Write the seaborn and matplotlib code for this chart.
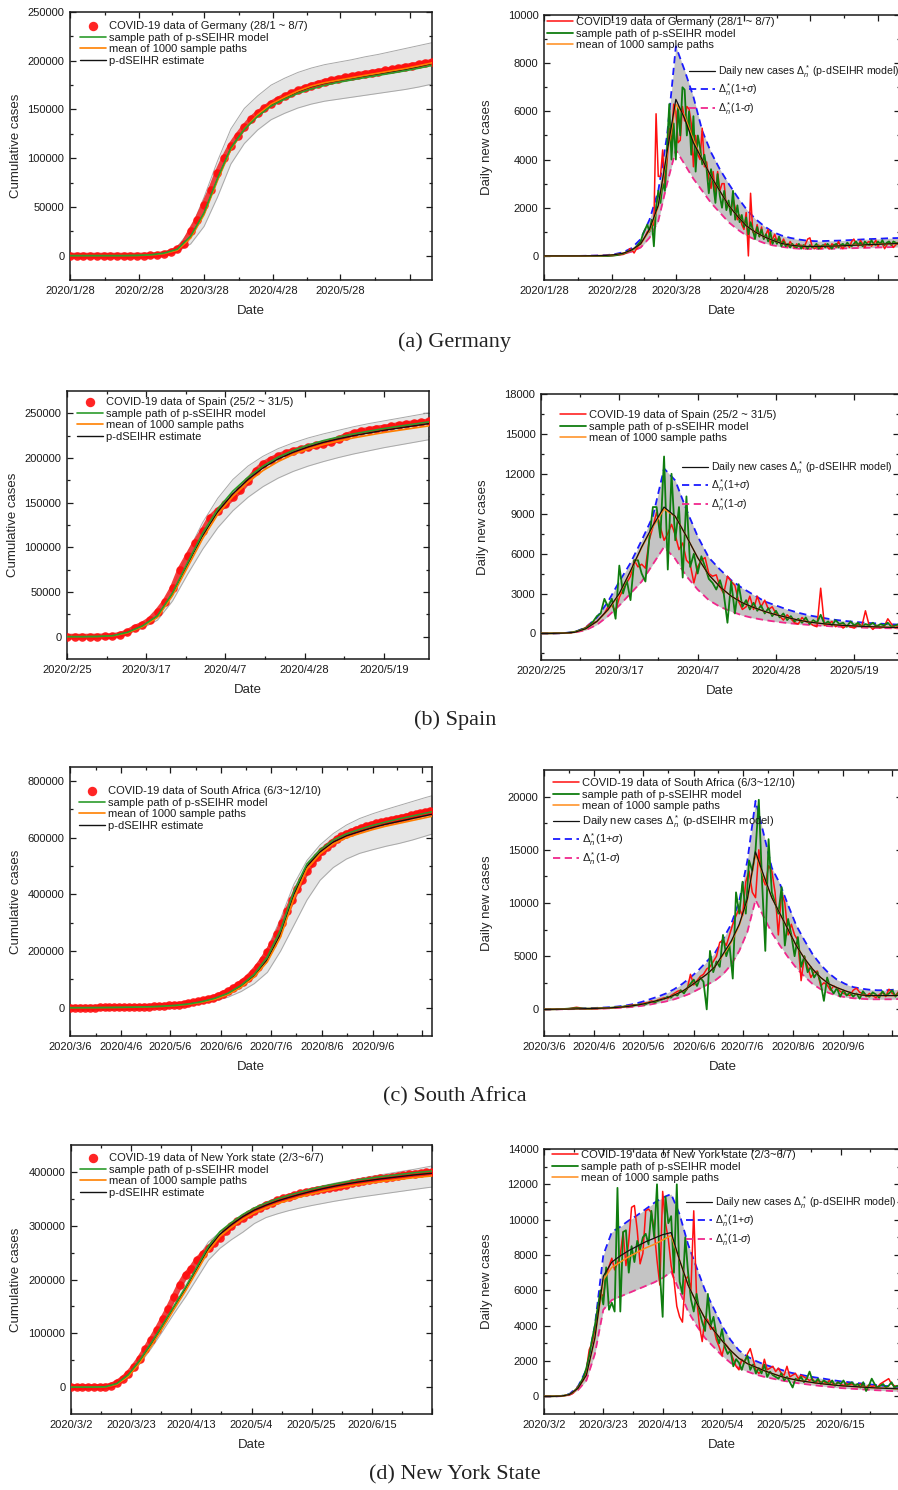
import numpy as np
import pandas as pd
import seaborn as sns
import matplotlib.pyplot as plt
from matplotlib.legend import Legend

# ---------------- Germany (day 0 = 2020/1/28) ----------------
ger_start = '2020-01-28'
ger_ticks = ['2020-01-28', '2020-02-28', '2020-03-28', '2020-04-28', '2020-05-28', '2020-06-28']
ger_label = 'COVID-19 data of Germany (28/1 ~ 8/7)'
# cumulative, observed every 3 days
ger_cum_obs = [0, 0, 0, 0, 0, 0, 0, 0, 0, 0, 20,
               120, 240, 800, 1600, 3500, 6500, 12000, 25000, 37000, 52000,
               67000, 85000, 100000, 113000, 123000, 132000, 140000, 146000, 151000, 156000,
               160000, 163500, 166500, 169500, 172000, 174500, 176500, 178500, 180000, 181500,
               183000, 184300, 185500, 186700, 187800, 188900, 190000, 191200, 192500, 193800,
               195000, 196300, 197600, 198800]
# cumulative model curves, every 6 days
ger_cum_est = [0, 0, 0, 0, 0, 200, 700, 2300, 6000, 19000, 43000, 78000, 110000, 130000,
               144000, 155000, 162000, 168500, 173500, 177000, 179500, 182000, 184300,
               186500, 188800, 191000, 194000, 197300]
ger_cum_path = [0, 0, 0, 0, 0, 250, 800, 2500, 6500, 20000, 44000, 79000, 110500, 129500,
                143000, 153500, 160500, 166500, 171000, 174800, 177800, 180300, 182700,
                185000, 187300, 189700, 192300, 195200]
ger_cum_mean = [0, 0, 0, 0, 0, 150, 600, 2100, 5600, 18000, 42000, 77000, 109000, 130000,
                144500, 155500, 162500, 169000, 174000, 177500, 180000, 182500, 185000,
                187300, 189700, 192000, 194800, 197800]
ger_cum_hi = [0, 0, 0, 0, 0, 300, 1000, 3000, 9000, 27000, 60000, 97000, 130000, 151000,
              164000, 175000, 182000, 188000, 192500, 196000, 198500, 201000, 204000,
              206500, 209500, 212500, 215500, 218500]
ger_cum_lo = [0, 0, 0, 0, 0, 100, 400, 1500, 4000, 12000, 30000, 60000, 94000, 115000,
              129000, 139500, 146000, 151500, 155500, 158500, 160500, 162500, 164500,
              166500, 168500, 170500, 173000, 176000]
# daily new cases, every day
ger_new_obs = [0] * 30 + [
    5, 10, 20, 30, 40, 50, 60, 100, 150, 300,
    250, 120, 280, 400, 550, 650, 800, 1000, 1100, 1200,
    1300, 5900, 3300, 3300, 4400, 2800, 3900, 5300, 4700, 6300,
    6000, 4700, 4800, 6200, 5600, 6200, 6100, 5500, 3700, 5000,
    4200, 4000, 5300, 3700, 3900, 3200, 2800, 3500, 2600, 3500,
    2700, 3000, 3000, 2000, 2200, 1800, 2400, 2000, 1500, 1700,
    1300, 1100, 1800, 0, 2600, 1000, 900, 1300, 800, 1200,
    700, 900, 1100, 500, 700, 900, 600, 800, 500, 700,
    500, 400, 600, 450, 350, 500, 400, 450, 300, 500,
    700, 750, 400, 300, 350, 450, 300, 400, 500, 350,
    300, 500, 450, 350, 600, 400, 300, 450, 500, 350,
    600, 700, 500, 400, 650, 500, 350, 550, 600, 400,
    500, 650, 400, 550, 500, 300, 450, 600, 500, 350,
    450, 550, 400]
ger_new_path = [0] * 30 + [
    5, 10, 20, 30, 50, 70, 100, 120, 180, 200,
    250, 300, 380, 500, 600, 900, 1100, 1300, 1000, 1500,
    400, 2000, 2700, 2200, 3000, 2700, 4500, 6300, 4000, 5500,
    4000, 6200, 5000, 7000, 6900, 5000, 6000, 4200, 5800, 3500,
    5000, 4500, 3800, 4200, 3600, 2600, 3600, 3000, 2200, 3400,
    2500, 2000, 2700, 1900, 2300, 1700, 2700, 1500, 2100, 1400,
    1700, 1200, 1600, 900, 1400, 1100, 700, 1200, 800, 1100,
    700, 900, 600, 1000, 500, 700, 500, 800, 400, 600,
    400, 500, 350, 500, 400, 350, 500, 300, 450, 400,
    300, 450, 350, 400, 500, 300, 400, 450, 350, 500,
    400, 300, 450, 500, 350, 450, 500, 400, 550, 450,
    400, 500, 600, 450, 550, 400, 600, 500, 450, 650,
    500, 450, 600, 500, 650, 450, 550, 600, 450, 600,
    550, 500, 650]
# daily model curves, every 4 days
ger_new_est = [0, 0, 0, 0, 0, 5, 10, 20, 50, 110, 250, 500, 1100, 2100, 4300, 6500, 5700,
               4700, 4000, 3300, 2700, 2100, 1650, 1250, 1000, 800, 650, 520, 450, 410, 390,
               390, 400, 410, 420, 440, 450, 470, 480, 500, 510, 520]
ger_new_mean = [0, 0, 0, 0, 0, 5, 10, 20, 50, 110, 240, 480, 1050, 2050, 4200, 6300, 5800,
                4800, 4000, 3300, 2700, 2100, 1650, 1250, 1000, 800, 650, 520, 450, 410, 390,
                390, 400, 410, 420, 440, 450, 470, 480, 500, 510, 520]
ger_new_hi = [0, 0, 0, 0, 0, 5, 15, 30, 70, 150, 330, 700, 1500, 2700, 5000, 8700, 7700,
              6600, 5200, 4300, 3600, 3000, 2450, 1950, 1550, 1250, 1000, 850, 750, 680, 630,
              610, 620, 630, 640, 660, 680, 700, 710, 730, 740, 750]
ger_new_lo = [0, 0, 0, 0, 0, 3, 7, 15, 35, 80, 180, 350, 750, 1450, 3000, 4400, 3800,
              3200, 2700, 2200, 1800, 1400, 1100, 850, 680, 540, 440, 380, 330, 300, 290,
              290, 300, 300, 310, 320, 330, 340, 350, 360, 370, 380]

# ---------------- Spain (day 0 = 2020/2/25) ----------------
spa_start = '2020-02-25'
spa_ticks = ['2020-02-25', '2020-03-17', '2020-04-07', '2020-04-28', '2020-05-19']
spa_label = 'COVID-19 data of Spain (25/2 ~ 31/5)'
spa_cum_obs = [0, 0, 0, 50, 150, 300, 700, 2000, 5000, 10000,
               13500, 19000, 28000, 39000, 54000, 75000, 90000, 105000, 118000, 133000,
               141000, 148000, 156000, 164000, 174000, 185000, 193000, 198000, 202000, 205500,
               208000, 210000, 212000, 214000, 216000, 218000, 221000, 225000, 228000, 230000,
               231500, 233000, 234000, 235500, 237000, 238000, 239000, 240000, 241000]
spa_cum_est = [0, 0, 200, 900, 4500, 11500, 22500, 48000, 81000, 113000, 140000, 160000,
               176000, 189000, 199000, 206500, 212500, 217500, 221500, 225000, 228000,
               231000, 233500, 236000, 238500]
spa_cum_path = [0, 0, 200, 1000, 4800, 12000, 23500, 49000, 83000, 116000, 143000, 163000,
                178500, 191000, 201000, 208500, 214500, 219500, 223500, 227000, 230000,
                233000, 235500, 238000, 240500]
spa_cum_mean = [0, 0, 150, 800, 4200, 11000, 21500, 46000, 78000, 110000, 137000, 157000,
                173000, 186000, 196000, 204000, 210000, 215000, 219000, 222500, 225500,
                228500, 231000, 233500, 236000]
spa_cum_hi = [0, 0, 300, 1200, 5500, 13500, 27000, 56000, 94000, 128000, 155000, 176000,
              191000, 202000, 210500, 217000, 222500, 227000, 231000, 235000, 238500,
              241500, 244500, 247500, 250500]
spa_cum_lo = [0, 0, 100, 600, 3500, 9500, 18500, 40000, 70000, 98000, 122000, 141000,
              156000, 168000, 177500, 185000, 191000, 196000, 200500, 204500, 208000,
              211500, 214500, 217500, 220500]
spa_new_obs = [0, 0, 0, 5, 10, 15, 20, 30, 60, 100,
               200, 300, 450, 700, 800, 900, 1200, 1500, 2000, 2100,
               1700, 2700, 3300, 3800, 4300, 5500, 5000, 5200, 4900, 7000,
               8000, 9100, 8000, 7000, 7500, 8200, 7400, 6300, 6800, 5500,
               5200, 3800, 5000, 5500, 5700, 4500, 4300, 4400, 3500, 3000,
               4300, 3900, 3600, 2400, 1800, 2000, 2800, 1800, 2800, 2000,
               2500, 1800, 2000, 1500, 1300, 1000, 1400, 1100, 800, 700,
               1200, 900, 800, 600, 500, 3400, 600, 700, 900, 500,
               700, 400, 600, 500, 400, 700, 500, 1700, 600, 300,
               600, 400, 500, 1100, 700, 400, 600]
spa_new_path = [0, 0, 0, 5, 10, 15, 25, 40, 70, 120,
                200, 300, 400, 600, 900, 1300, 1500, 2600, 2000, 2600,
                1100, 5100, 3000, 4000, 2500, 5500, 5500, 4500, 3900, 7000,
                9500, 9500, 7200, 13300, 4800, 12000, 7000, 9500, 4200, 10300,
                5000, 6000, 4500, 5800, 5000, 4100, 3800, 3300, 4000, 3000,
                800, 3900, 1500, 3700, 2000, 2500, 1800, 2300, 1700, 2100,
                1500, 1900, 1300, 1700, 1200, 1500, 1000, 1300, 900, 1100,
                800, 1200, 700, 1000, 800, 1400, 700, 900, 600, 1000,
                700, 800, 500, 900, 600, 800, 500, 700, 600, 800,
                500, 700, 600, 800, 500, 600, 700]
spa_new_est = [0, 0, 20, 80, 350, 900, 1800, 3000, 4700, 6500, 8100, 9500, 8800, 7300,
               5700, 4400, 3500, 2800, 2300, 1950, 1650, 1400, 1200, 1000, 850, 750, 660,
               600, 560, 520, 490, 460, 440]
spa_new_mean = [0, 0, 20, 80, 340, 880, 1750, 2950, 4650, 6450, 8000, 9350, 8800, 7300,
                5700, 4400, 3500, 2800, 2300, 1950, 1650, 1400, 1200, 1000, 850, 750, 660,
                600, 560, 520, 490, 460, 440]
spa_new_hi = [0, 0, 25, 100, 450, 1200, 2400, 3900, 5300, 7000, 8800, 12400, 11500, 9300,
              7300, 5700, 4800, 4000, 3400, 2900, 2400, 2100, 1800, 1550, 1350, 1200, 1050,
              950, 870, 800, 750, 700, 660]
spa_new_lo = [0, 0, 15, 60, 250, 650, 1300, 2100, 3000, 3900, 5200, 6500, 5600, 4300,
              3300, 2500, 2000, 1650, 1350, 1150, 1000, 880, 780, 700, 640, 580, 530, 490,
              460, 430, 410, 390, 380]

# ---------------- South Africa (day 0 = 2020/3/6) ----------------
saf_start = '2020-03-06'
saf_ticks = ['2020-03-06', '2020-04-06', '2020-05-06', '2020-06-06', '2020-07-06',
             '2020-08-06', '2020-09-06', '2020-10-06']
saf_label = 'COVID-19 data of South Africa (6/3~12/10)'
saf_cum_obs = [0, 10, 30, 100, 250, 400, 700, 1000, 1300, 1500,
               1500, 1700, 1900, 2200, 2500, 3200, 3800, 4700, 5600, 6800,
               8200, 9400, 11000, 12800, 15500, 18500, 22500, 26000, 30500, 35000,
               42000, 50000, 58000, 68000, 80000, 92000, 106000, 124000, 145000, 168000,
               195000, 225000, 260000, 300000, 340000, 380000, 420000, 452000, 482000, 510000,
               532000, 552000, 568000, 582000, 595000, 605000, 614000, 622000, 629000, 635000,
               641000, 646000, 651000, 655000, 659000, 663000, 667000, 671000, 675000, 679000,
               683000, 687000, 691000, 695000]
saf_cum_est = [0, 100, 300, 700, 1200, 2000, 3000, 4800, 7800, 12500, 20000, 31000, 48000,
               75000, 112000, 170000, 260000, 400000, 500000, 550000, 585000, 607000,
               622000, 636000, 648000, 658000, 668000, 678000, 688000]
saf_cum_path = [0, 100, 300, 700, 1300, 2100, 3200, 5000, 8200, 13000, 21000, 33000, 51000,
                79000, 118000, 180000, 275000, 410000, 508000, 558000, 592000, 614000,
                630000, 644000, 656000, 667000, 677000, 687000, 697000]
saf_cum_mean = [0, 80, 250, 600, 1100, 1800, 2800, 4500, 7400, 12000, 19000, 29500, 46000,
                72000, 108000, 163000, 250000, 385000, 490000, 543000, 578000, 600000,
                615000, 629000, 641000, 651000, 661000, 671000, 681000]
saf_cum_hi = [0, 150, 400, 900, 1600, 2600, 4000, 6300, 10000, 16000, 25000, 39000, 61000,
              94000, 140000, 210000, 315000, 435000, 520000, 575000, 615000, 645000,
              668000, 685000, 700000, 714000, 728000, 742000, 755000]
saf_cum_lo = [0, 50, 200, 500, 900, 1500, 2300, 3500, 5800, 9000, 15000, 24000, 37000,
              57000, 85000, 125000, 200000, 290000, 380000, 450000, 495000, 525000,
              545000, 558000, 570000, 580000, 592000, 606000, 620000]
# daily new cases, every 2 days
saf_new_obs = [0, 1, 2, 5, 10, 20, 30, 50, 80, 150,
               200, 150, 80, 60, 50, 70, 60, 80, 90, 100,
               120, 150, 180, 250, 200, 300, 350, 400, 450, 400,
               550, 600, 650, 800, 700, 900, 1000, 1100, 1000, 1300,
               1500, 1700, 1800, 1600, 1900, 3300, 2300, 2700, 3100, 3300,
               3800, 4000, 4500, 5000, 6300, 6500, 6000, 7000, 8000, 8800,
               9500, 8800, 12000, 13000, 11000, 10500, 15000, 12500, 11700, 13500,
               13000, 11000, 7000, 11000, 10000, 7000, 8000, 7000, 6500, 2700,
               5000, 4000, 3000, 3500, 3600, 2200, 2500, 2300, 1800, 2200,
               2000, 1700, 1500, 1400, 1300, 1800, 2000, 1600, 1500, 1200,
               1500, 1300, 1100, 1400, 1600, 1200, 1900, 1500, 1300, 1700, 1600]
saf_new_path = [0, 0, 5, 10, 15, 25, 40, 60, 80, 100,
                120, 100, 90, 80, 70, 90, 100, 110, 120, 140,
                150, 170, 200, 220, 250, 300, 280, 350, 400, 450,
                500, 450, 600, 700, 650, 800, 900, 1000, 1200, 1100,
                1400, 1300, 1800, 1500, 2000, 2400, 2800, 2200, 3000, 2600,
                0, 5500, 3500, 4500, 4000, 7000, 5000, 6000, 2900, 11000,
                9000, 12000, 9000, 14000, 13000, 15000, 19700, 12000, 5500, 16000,
                11000, 10000, 9000, 11500, 6000, 8500, 7000, 5000, 6800, 4000,
                5000, 3500, 4000, 3000, 3500, 2500, 800, 3000, 2000, 1500,
                2000, 1200, 1800, 1300, 1600, 1200, 1500, 1000, 1700, 1300,
                1200, 1600, 1400, 1100, 1700, 1300, 1500, 1800, 1200, 1600, 1400]
# daily model curves, every 5 days
saf_new_est = [0, 10, 20, 30, 50, 70, 90, 110, 140, 190, 250, 350, 480, 650, 850, 1050,
               1350, 1700, 2200, 2750, 3300, 4000, 5200, 6400, 8000, 10400, 14800, 12600,
               10500, 9000, 7500, 6000, 4800, 3800, 3000, 2400, 2050, 1750, 1500, 1350,
               1300, 1300, 1300, 1300, 1350]
saf_new_mean = [0, 10, 20, 30, 50, 70, 90, 110, 140, 190, 250, 350, 480, 650, 850, 1050,
                1350, 1700, 2200, 2750, 3300, 4000, 5100, 6300, 7900, 10300, 14600, 12500,
                10500, 9000, 7500, 6000, 4800, 3800, 3000, 2400, 2050, 1750, 1500, 1350,
                1300, 1300, 1300, 1300, 1350]
saf_new_hi = [0, 15, 30, 45, 70, 100, 130, 160, 200, 270, 360, 500, 700, 950, 1200, 1500,
              1900, 2400, 3000, 3700, 4500, 5300, 6600, 8000, 10200, 14000, 19600, 16500,
              13300, 11800, 9800, 7900, 6500, 5200, 4200, 3400, 2800, 2400, 2100, 1950,
              1850, 1800, 1800, 1850, 1900]
saf_new_lo = [0, 5, 10, 20, 30, 45, 60, 75, 100, 130, 180, 240, 330, 450, 600, 750, 950,
              1200, 1500, 1900, 2300, 2700, 3300, 4200, 5500, 7300, 10300, 8700, 7200,
              6000, 4900, 3900, 3100, 2400, 1900, 1550, 1300, 1150, 1050, 1000, 950, 950,
              950, 950, 1000]

# ---------------- New York state (day 0 = 2020/3/2) ----------------
ny_start = '2020-03-02'
ny_ticks = ['2020-03-02', '2020-03-23', '2020-04-13', '2020-05-04', '2020-05-25',
            '2020-06-15', '2020-07-06']
ny_label = 'COVID-19 data of New York state (2/3~6/7)'
ny_cum_obs = [0, 0, 10, 50, 100, 300, 700, 2500, 8000, 15000,
              25000, 38000, 53000, 70000, 88000, 106000, 126000, 146000, 168000, 190000,
              208000, 220000, 236000, 247000, 258000, 268000, 278000, 290000, 300000, 308000,
              315000, 321000, 327000, 333000, 338000, 342000, 347000, 351000, 354000, 357000,
              360000, 362500, 364500, 366500, 368500, 370500, 372500, 374500, 376500, 378500,
              380500, 382500, 384500, 386500, 388000, 389500, 391000, 392500, 394000, 395500,
              397000, 398000, 399000, 400000]
ny_cum_est = [0, 0, 50, 500, 6000, 22000, 48000, 80000, 114000, 149000, 183000, 220000,
              258000, 284000, 302000, 317000, 329000, 338000, 346000, 352500, 358500, 364000,
              369000, 373500, 377500, 381000, 384000, 387000, 389500, 392000, 394500, 396500,
              398500]
ny_cum_path = [0, 0, 60, 600, 6500, 23000, 50000, 82000, 116000, 151000, 186000, 224000,
               262000, 289000, 306000, 321000, 333000, 342000, 350000, 356500, 362500, 368000,
               373000, 377500, 381500, 385000, 388000, 391000, 393500, 396000, 398500, 400500,
               402500]
ny_cum_mean = [0, 0, 40, 400, 5200, 20000, 45000, 76000, 110000, 145000, 179000, 216000,
               253000, 280000, 297000, 312000, 324000, 333000, 341000, 347500, 353500, 359000,
               364000, 368500, 372500, 376000, 379000, 382000, 384500, 387000, 389500, 391500,
               393500]
ny_cum_hi = [0, 0, 60, 600, 7000, 25000, 53000, 87000, 123000, 160000, 198000, 238000,
             270000, 288000, 305000, 320000, 333000, 344000, 352000, 358000, 364000, 369500,
             374500, 379000, 383000, 387000, 391000, 394500, 398000, 401500, 405000, 409000,
             413000]
ny_cum_lo = [0, 0, 40, 400, 5000, 19000, 43000, 72000, 104000, 137000, 168000, 202000,
             236000, 258000, 274000, 288000, 304000, 315000, 322000, 328000, 333000, 337500,
             341500, 345500, 349000, 352500, 355500, 358500, 361500, 364500, 367500, 370500,
             373000]
ny_new_obs = [0, 0, 0, 2, 5, 10, 20, 30, 50, 100,
              150, 300, 560, 700, 940, 1500, 2640, 3000, 3770, 4900,
              5840, 5650, 6780, 7350, 7820, 7160, 7540, 8000, 9300, 7400,
              8800, 10700, 10800, 9400, 7500, 8100, 10500, 10600, 10400, 9400,
              7700, 6300, 11600, 9800, 8900, 7400, 6600, 5100, 4500, 4200,
              6600, 6800, 6000, 10500, 5600, 4000, 3100, 4500, 4300, 3800,
              3900, 3200, 2800, 2300, 3000, 2800, 2500, 2100, 1700, 1500,
              2100, 1900, 2400, 2700, 2100, 1500, 1300, 1400, 2100, 1500,
              1600, 1700, 1400, 1600, 1300, 1200, 1700, 1100, 1200, 1300,
              1000, 1200, 1100, 1000, 900, 1000, 750, 900, 800, 850,
              700, 900, 750, 650, 800, 700, 600, 750, 650, 700,
              600, 550, 700, 600, 500, 650, 550, 600, 500, 700,
              800, 900, 1000, 700, 600, 550, 650]
ny_new_path = [0, 0, 0, 3, 6, 12, 25, 40, 70, 120,
               200, 350, 500, 800, 1100, 1600, 2300, 3200, 4000, 5000,
               6000, 5200, 7300, 4900, 5300, 4800, 11800, 4800, 9300, 9400,
               7000, 8500, 7600, 8800, 8300, 9000, 9200, 8600, 10500, 9000,
               12000, 7000, 4500, 11300, 9800, 10200, 7000, 12000, 6500, 5800,
               9000, 7000, 5500, 4800, 5800, 4800, 4200, 3700, 5800, 4000,
               4500, 3500, 3000, 3800, 2800, 2400, 2600, 1700, 2100, 1900,
               1500, 2000, 2300, 1500, 1800, 1300, 1600, 1300, 1800, 1100,
               1400, 1200, 1100, 1000, 1300, 900, 1100, 800, 500, 1000,
               900, 1100, 800, 1000, 1400, 900, 800, 1000, 700, 900,
               800, 700, 900, 600, 800, 700, 900, 600, 700, 800,
               600, 700, 500, 800, 300, 600, 1000, 700, 500, 600,
               700, 500, 600, 800, 500, 600, 500]
ny_new_est = [0, 0, 10, 100, 450, 1200, 3300, 6800, 7600, 7950, 8250, 8500, 8750, 8950,
              9150, 9270, 7700, 6300, 5300, 4400, 3750, 3150, 2600, 2150, 1850, 1650, 1450,
              1280, 1120, 1000, 900, 830, 760, 700, 650, 600, 570, 540, 510, 480, 460, 440,
              420]
ny_new_mean = [0, 0, 10, 100, 440, 1180, 3250, 6600, 7300, 7600, 7900, 8150, 8400, 8600,
               8850, 9100, 7700, 6300, 5300, 4400, 3750, 3150, 2600, 2150, 1850, 1650, 1450,
               1280, 1120, 1000, 900, 830, 760, 700, 650, 600, 570, 540, 510, 480, 460, 440,
               420]
ny_new_hi = [0, 0, 15, 130, 550, 1500, 4000, 8000, 9300, 9600, 9950, 10250, 10600, 10950,
             11250, 11450, 10300, 8600, 7300, 6000, 5000, 4000, 3200, 2600, 2250, 2000, 1800,
             1650, 1500, 1350, 1250, 1150, 1070, 1000, 920, 850, 800, 750, 700, 650, 600,
             560, 520]
ny_new_lo = [0, 0, 8, 70, 350, 900, 2400, 4900, 5450, 5650, 5850, 6050, 6250, 6450, 6700,
             7050, 5950, 4800, 4000, 3300, 2800, 2300, 1900, 1600, 1400, 1230, 1100, 1000,
             900, 820, 740, 680, 620, 570, 520, 470, 440, 410, 380, 350, 330, 300, 280]

# ---------------- plotting ----------------
W, H = 898, 1490
INK = '#1a1a1a'

sns.set_theme(style='ticks')
plt.rcParams['font.family'] = ['Liberation Sans', 'DejaVu Sans']
plt.rcParams['mathtext.fontset'] = 'custom'
plt.rcParams['mathtext.rm'] = 'Liberation Sans'
plt.rcParams['mathtext.it'] = 'Liberation Sans:italic'
plt.rcParams['mathtext.bf'] = 'Liberation Sans:bold'
plt.rcParams['text.color'] = INK

fig = plt.figure(figsize=(W / 100, H / 100), dpi=100)


def days(vals, step):
    return np.arange(len(vals)) * step


def add_line(ax, vals, step, **kw):
    sns.lineplot(x=days(vals, step), y=vals, ax=ax, legend=False, estimator=None, **kw)
    return ax.lines[-1]


def add_dots(ax, vals, step):
    # the observations are dense enough in the original to merge into a band
    add_line(ax, vals, step, color='#f22a2a', lw=4.2, alpha=0.9, zorder=2.8,
             solid_capstyle='round')
    sns.scatterplot(x=days(vals, step), y=vals, ax=ax, color='#ff0d0d', s=38,
                    linewidth=0, alpha=0.9, legend=False, zorder=3)
    return ax.collections[-1]


def px_axes(box):
    l, t, r, b = box
    return fig.add_axes([l / W, 1 - b / H, (r - l) / W, (b - t) / H])


def style_axes(ax, box, start, tick_dates, n_lab, xmax, ylim, ymajor, ylabel, ylab_x):
    l, t, r, b = box
    s = pd.Timestamp(start)
    stamps = [pd.Timestamp(d) for d in tick_dates]
    majors = [(d - s).days for d in stamps]
    labels = [f'{d.year}/{d.month}/{d.day}' if i < n_lab else '' for i, d in enumerate(stamps)]
    ax.set_xlim(0, xmax)
    ax.set_xticks(majors, labels)
    ax.set_xticks([(a + c) / 2 for a, c in zip(majors[:-1], majors[1:])], minor=True)
    ax.set_ylim(*ylim)
    yt = np.arange(0, ylim[1] + 1, ymajor)
    ax.set_yticks(yt, [f'{int(v)}' for v in yt])
    ym = np.arange(-ymajor / 2, ylim[1], ymajor)
    ax.set_yticks(ym[ym > ylim[0]], minor=True)
    ax.tick_params(which='both', direction='in', top=True, right=True, width=0.9,
                   colors=INK, labelsize=8, pad=4)
    ax.tick_params(which='major', length=4.5)
    ax.tick_params(which='minor', length=2.5)
    for sp in ax.spines.values():
        sp.set_linewidth(1.1)
        sp.set_color(INK)
    ax.set_xlabel('Date', fontsize=9.5)
    ax.set_ylabel(ylabel, fontsize=9.5)
    ax.xaxis.set_label_coords(0.5, -31 / (b - t))
    ax.yaxis.set_label_coords((ylab_x - l) / (r - l), 0.5)
    ax.xaxis.label.set_va('center')
    ax.yaxis.label.set_va('center')


def put_legend(ax, handles, labels, x, y, size=8):
    leg = Legend(ax, handles, labels, loc='upper left', bbox_to_anchor=(x / W, 1 - y / H),
                 bbox_transform=fig.transFigure, frameon=False, fontsize=size,
                 handlelength=2.3 * 8 / size, handletextpad=0.3, labelspacing=0.15,
                 borderpad=0, borderaxespad=0, scatterpoints=1, markerscale=1.1)
    ax.add_artist(leg)


def cum_panel(ax, obs, obs_step, path, mean, est, hi, lo, step, label, leg_xy):
    ax.fill_between(days(hi, step), lo, hi, color='#e6e6e6', lw=0, zorder=1)
    add_line(ax, hi, step, color='#a8a8a8', lw=0.7, zorder=1.5)
    add_line(ax, lo, step, color='#a8a8a8', lw=0.7, zorder=1.5)
    h_obs = add_dots(ax, obs, obs_step)
    h_est = add_line(ax, est, step, color='#111111', lw=1.0, zorder=4)
    h_mean = add_line(ax, mean, step, color='#ff8000', lw=1.2, zorder=4.2)
    h_path = add_line(ax, path, step, color='#2c9c2c', lw=1.2, zorder=4.4)
    put_legend(ax, [h_obs, h_path, h_mean, h_est],
               [label, 'sample path of p-sSEIHR model', 'mean of 1000 sample paths',
                'p-dSEIHR estimate'], *leg_xy)


def daily_panel(ax, obs, path, day_step, mean, est, hi, lo, step, label, leg1_xy, leg2_xy):
    ax.fill_between(days(hi, step), lo, hi, color='#c4c4c4', lw=0, zorder=1)
    h_lo = add_line(ax, lo, step, color='#f0288c', lw=1.3, ls=(0, (4, 2.5)), zorder=2)
    h_hi = add_line(ax, hi, step, color='#1a1aff', lw=1.3, ls=(0, (4, 2.5)), zorder=2.1)
    h_obs = add_line(ax, obs, day_step, color='#ff1010', lw=1.1, zorder=3)
    h_path = add_line(ax, path, day_step, color='#0f7d0f', lw=1.3, zorder=3.2)
    h_mean = add_line(ax, mean, step, color='#ff8c1a', lw=1.1, zorder=3.4)
    h_est = add_line(ax, est, step, color='#111111', lw=0.9, zorder=3.6)
    first = ([h_obs, h_path, h_mean],
             [label, 'sample path of p-sSEIHR model', 'mean of 1000 sample paths'])
    second = ([h_est, h_hi, h_lo],
              [r'Daily new cases $\Delta_n^*$ (p-dSEIHR model)',
               r'$\Delta_n^*$(1+$\sigma$)', r'$\Delta_n^*$(1-$\sigma$)'])
    if leg2_xy is None:
        put_legend(ax, first[0] + second[0], first[1] + second[1], *leg1_xy)
    else:
        put_legend(ax, *first, *leg1_xy)
        put_legend(ax, *second, *leg2_xy, size=7.6)


# Germany
box = (70, 12, 432, 280)
ax = px_axes(box)
cum_panel(ax, ger_cum_obs, 3, ger_cum_path, ger_cum_mean, ger_cum_est, ger_cum_hi,
          ger_cum_lo, 6, ger_label, (80, 21))
style_axes(ax, box, ger_start, ger_ticks, 5, 162, (-25000, 250000), 50000,
           'Cumulative cases', 16)
box = (544, 15, 900, 280)
ax = px_axes(box)
daily_panel(ax, ger_new_obs, ger_new_path, 1, ger_new_mean, ger_new_est, ger_new_hi,
            ger_new_lo, 4, ger_label, (547, 17), (689, 63))
style_axes(ax, box, ger_start, ger_ticks, 5, 162, (-1000, 10000), 2000,
           'Daily new cases', 487)

# Spain
box = (67, 391, 429, 659)
ax = px_axes(box)
cum_panel(ax, spa_cum_obs, 2, spa_cum_path, spa_cum_mean, spa_cum_est, spa_cum_hi,
          spa_cum_lo, 4, spa_label, (77, 397))
style_axes(ax, box, spa_start, spa_ticks, 5, 96, (-25000, 275000), 50000,
           'Cumulative cases', 13)
box = (541, 394, 899, 660)
ax = px_axes(box)
daily_panel(ax, spa_new_obs, spa_new_path, 1, spa_new_mean, spa_new_est, spa_new_hi,
            spa_new_lo, 3, spa_label, (560, 410), (682, 459))
style_axes(ax, box, spa_start, spa_ticks, 5, 96, (-2000, 18000), 3000,
           'Daily new cases', 483)

# South Africa
box = (70, 767, 432, 1036)
ax = px_axes(box)
cum_panel(ax, saf_cum_obs, 3, saf_cum_path, saf_cum_mean, saf_cum_est, saf_cum_hi,
          saf_cum_lo, 8, saf_label, (79, 786))
style_axes(ax, box, saf_start, saf_ticks, 7, 220, (-100000, 850000), 200000,
           'Cumulative cases', 16)
box = (544, 770, 902, 1036)
ax = px_axes(box)
daily_panel(ax, saf_new_obs, saf_new_path, 2, saf_new_mean, saf_new_est, saf_new_hi,
            saf_new_lo, 5, saf_label, (553, 778), None)
style_axes(ax, box, saf_start, saf_ticks, 7, 220, (-2500, 22500), 5000,
           'Daily new cases', 487)

# New York state
box = (71, 1145, 432, 1414)
ax = px_axes(box)
cum_panel(ax, ny_cum_obs, 2, ny_cum_path, ny_cum_mean, ny_cum_est, ny_cum_hi,
          ny_cum_lo, 4, ny_label, (80, 1153))
style_axes(ax, box, ny_start, ny_ticks, 6, 126, (-50000, 450000), 100000,
           'Cumulative cases', 16)
box = (544, 1149, 900, 1414)
ax = px_axes(box)
daily_panel(ax, ny_new_obs, ny_new_path, 1, ny_new_mean, ny_new_est, ny_new_hi,
            ny_new_lo, 3, ny_label, (552, 1150), (686, 1194))
style_axes(ax, box, ny_start, ny_ticks, 6, 126, (-1000, 14000), 2000,
           'Daily new cases', 487)

# captions
for text, y in [('(a) Germany', 342), ('(b) Spain', 720), ('(c) South Africa', 1097),
                 ('(d) New York State', 1475)]:
    fig.text(455 / W, 1 - y / H, text, ha='center', va='center', fontsize=16,
             family=['Liberation Serif', 'DejaVu Serif'], color='#222222')

fig.savefig('out.png', dpi=100)
